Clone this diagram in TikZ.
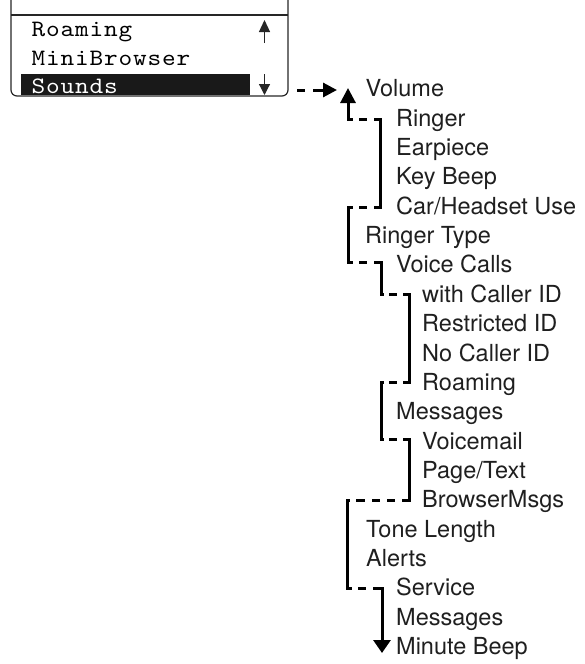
\documentclass[tikz,border=0pt]{standalone}
\usepackage{fontspec}
\setsansfont{TeX Gyre Heros}
\usetikzlibrary{arrows.meta}
\makeatletter
\newcommand\spacedtext[1]{\scalebox{2.6}[2.35]{\ttfamily\fontsize{10}{10}\selectfont\spaced@aux#1\relax}}
\def\spaced@aux#1{\ifx#1\relax\else\makebox[5.58pt][c]{#1}\expandafter\spaced@aux\fi}
\makeatother
\begin{document}
\begin{tikzpicture}[x=1pt,y=-1pt,
  menu/.style={inner sep=0pt, anchor=base west},
  item/.style={font=\sffamily\fontsize{23.5}{23.5}\selectfont, inner sep=0pt, anchor=base west, text=black!88},
  thinline/.style={line width=1.2pt, draw=black!85},
  bar/.style={line width=3pt, line cap=rect},
  hd/.style={line width=3pt, line cap=butt},
  shortdash/.style={hd, dash pattern=on 5pt off 6pt on 8pt off 7pt on 20pt},
  tinydash/.style={hd, dash pattern=on 3pt off 5pt on 8pt off 6pt on 20pt},
  longdash/.style={hd, dash pattern=on 3pt off 6pt on 9pt off 7pt on 8pt off 7pt on 8pt off 7pt on 20pt}]
\useasboundingbox (0,0) rectangle (585,664);

% phone display
\draw[thinline, rounded corners=6pt] (11,0) -- (11,96) -- (288,96) -- (288,0);
\draw[thinline] (11,15) -- (288,15);
\fill[black!90] (21,74) rectangle (250,94.5);
\node[menu] (m1) at (31,36.5) {\spacedtext{Roaming}};
\node[menu] (m2) at (31,65) {\spacedtext{MiniBrowser}};
\node[menu, text=white] (m3) at (31,93.5) {\spacedtext{Sounds}};
\draw[thinline, -{Triangle[length=12pt,width=11pt]}] (264.5,43) -- (264.5,20);
\draw[thinline, -{Triangle[length=11pt,width=11pt]}] (264.5,74) -- (264.5,95);
\coordinate (boxR) at (288,90);
\coordinate (volTip) at (337,90);

% menu tree items
\node[item] (t0)  at (365.5,96.7)  {Volume};
\node[item] (t1)  at (396,126.07)  {Ringer};
\node[item] (t2)  at (396,155.44)  {Earpiece};
\node[item] (t3)  at (396,184.81)  {Key Beep};
\node[item] (t4)  at (396,214.18)  {Car/Headset Use};
\node[item] (t5)  at (365,243.55)  {Ringer Type};
\node[item] (t6)  at (396,272.92)  {Voice Calls};
\node[item] (t7)  at (422,302.29)  {with Caller ID};
\node[item] (t8)  at (422,331.66)  {Restricted ID};
\node[item] (t9)  at (422,361.03)  {No Caller ID};
\node[item] (t10) at (422,390.4)   {Roaming};
\node[item] (t11) at (396,419.77)  {Messages};
\node[item] (t12) at (422,449.14)  {Voicemail};
\node[item] (t13) at (422,478.51)  {Page/Text};
\node[item] (t14) at (422,507.88)  {BrowserMsgs};
\node[item] (t15) at (366,537.25)  {Tone Length};
\node[item] (t16) at (366,566.62)  {Alerts};
\node[item] (t17) at (396,595.99)  {Service};
\node[item] (t18) at (396,625.36)  {Messages};
\node[item] (t19) at (396,654.73)  {Minute Beep};

% link from display to menu
\draw[line width=3pt, dash pattern=on 0pt off 9pt on 8pt off 8pt on 30pt,
      -{Triangle[length=14pt,width=14pt]}] (boxR) -- (volTip);

% corner points of the bracket chain
\coordinate (c0) at (348,88);
\coordinate (c1) at (348,119);
\coordinate (c2) at (380,119);
\coordinate (c3) at (380,207);
\coordinate (c4) at (348,207);
\coordinate (c5) at (348,262);
\coordinate (c6) at (381,262);
\coordinate (c7) at (381,294);
\coordinate (c8) at (409,294);
\coordinate (c9) at (409,382);
\coordinate (c10) at (381,382);
\coordinate (c11) at (381,439);
\coordinate (c12) at (409,439);
\coordinate (c13) at (409,500);
\coordinate (c14) at (347,500);
\coordinate (c15) at (347,588);
\coordinate (c16) at (382,588);
\coordinate (c17) at (382,653);

\draw[bar, -{Triangle[length=15pt,width=15pt]}] (c1) -- (c0);
\draw[shortdash] (c1) -- (c2);
\draw[bar] (c2) -- (c3);
\draw[shortdash] (c4) -- (c3);
\draw[bar] (c4) -- (c5);
\draw[shortdash] (c5) -- (c6);
\draw[bar] (c6) -- (c7);
\draw[tinydash] (c7) -- (c8);
\draw[bar] (c8) -- (c9);
\draw[tinydash] (c10) -- (c9);
\draw[bar] (c10) -- (c11);
\draw[tinydash] (c11) -- (c12);
\draw[bar] (c12) -- (c13);
\draw[longdash] (c14) -- (c13);
\draw[bar] (c14) -- (c15);
\draw[shortdash] (c15) -- (c16);
\draw[bar, -{Triangle[length=13pt,width=17pt]}] (c16) -- (c17);
\end{tikzpicture}
\end{document}
